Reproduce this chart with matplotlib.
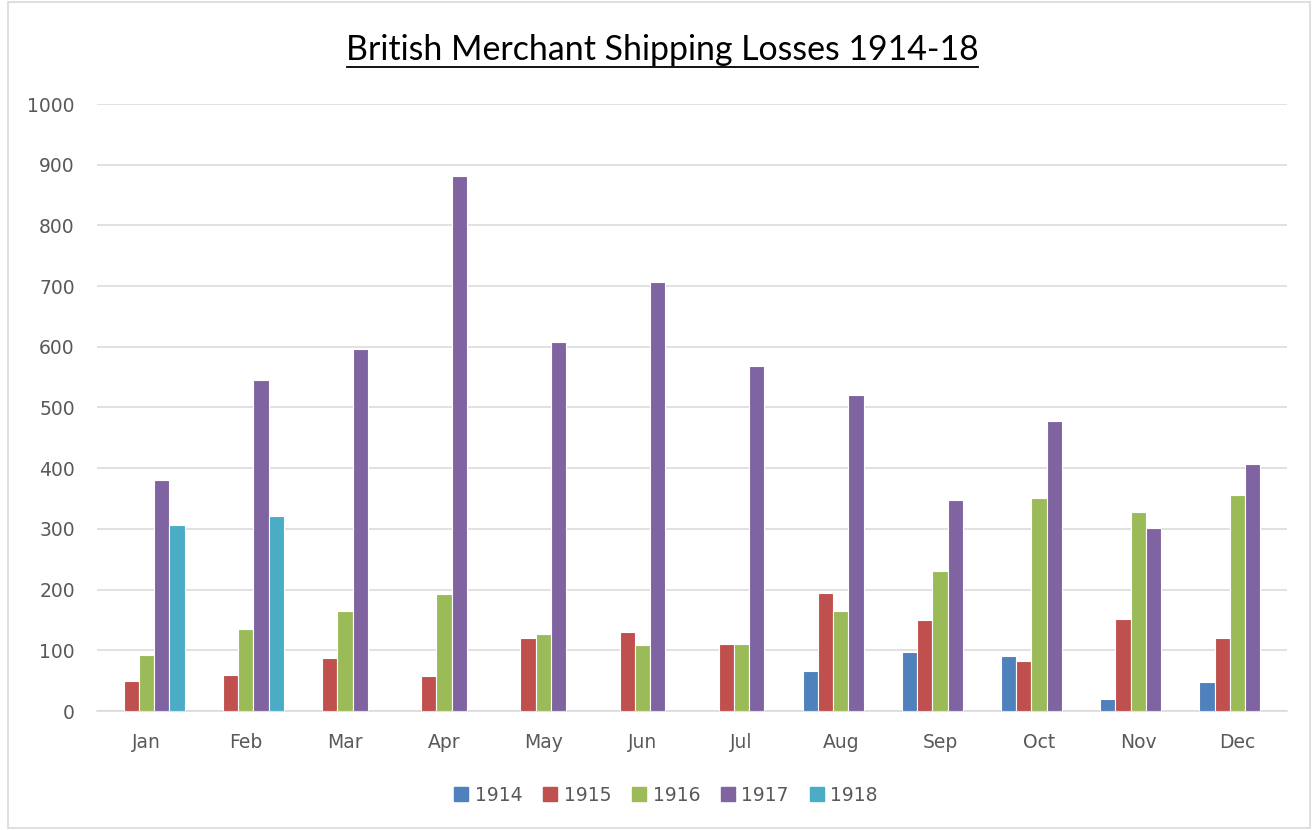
import numpy as np
import matplotlib.pyplot as plt
from matplotlib.patches import Rectangle, Patch

months = ['Jan', 'Feb', 'Mar', 'Apr', 'May', 'Jun', 'Jul', 'Aug', 'Sep', 'Oct', 'Nov', 'Dec']
years = ['1914', '1915', '1916', '1917', '1918']
nan = np.nan
losses_1914 = [nan, nan, nan, nan, nan, nan, nan, 66, 97, 90, 19, 48]
losses_1915 = [49, 60, 87, 58, 121, 130, 111, 195, 150, 82, 151, 121]
losses_1916 = [92, 135, 165, 193, 127, 109, 110, 165, 230, 351, 328, 356]
losses_1917 = [381, 546, 596, 882, 608, 707, 568, 521, 348, 477, 301, 407]
losses_1918 = [307, 321, nan, nan, nan, nan, nan, nan, nan, nan, nan, nan]
colors = ['#4F81BD', '#C0504D', '#9BBB59', '#8064A2', '#4BACC6']

series = [losses_1914, losses_1915, losses_1916, losses_1917, losses_1918]

plt.rcParams['font.family'] = ['DejaVu Sans']

fig = plt.figure(figsize=(13.14, 8.3), dpi=100)
ax = fig.add_axes([97 / 1314, 1 - 711 / 830, 1190 / 1314, 607 / 830])

x = np.arange(len(months))
pitch = 0.154
for i, (vals, c) in enumerate(zip(series, colors)):
    ax.bar(x + (i - 2) * pitch, vals, width=pitch, color=c,
           edgecolor='white', linewidth=0.8, zorder=3)

ax.set_xlim(-0.5, 11.5)
ax.set_ylim(0, 1000)
ax.set_yticks(range(0, 1001, 100))
ax.set_xticks(x)
ax.set_xticklabels(months)
ax.grid(axis='y', color='#D9D9D9', linewidth=1.1, zorder=0)
ax.tick_params(length=0, labelsize=13.5, colors='#595959')
ax.tick_params(axis='y', pad=16)
ax.tick_params(axis='x', pad=16)
for s in ['left', 'right', 'top']:
    ax.spines[s].set_visible(False)
ax.spines['bottom'].set_color('#D9D9D9')
ax.spines['bottom'].set_linewidth(1.1)

fig.text(662 / 1314, 1 - 50 / 830, 'British Merchant Shipping Losses 1914-18',
         ha='center', va='center', fontsize=24.4, color='black', family='Lato')
# underline
fig.add_artist(plt.Line2D([347 / 1314, 978 / 1314], [1 - 67 / 830, 1 - 67 / 830],
                          color='black', linewidth=1.3))

handles = [Patch(color=c) for c in colors]
fig.legend(handles, years, loc='center', bbox_to_anchor=(666 / 1314, 1 - 795 / 830),
           ncol=5, frameon=False, fontsize=13.5, handlelength=0.75, handleheight=0.75,
           handletextpad=0.35, columnspacing=1.1, labelcolor='#595959')

fig.add_artist(Rectangle((8 / 1314, 2 / 830), 1302 / 1314, 826 / 830,
                         transform=fig.transFigure, fill=False,
                         edgecolor='#D9D9D9', linewidth=1.2))

fig.savefig('out.png', dpi=100)
